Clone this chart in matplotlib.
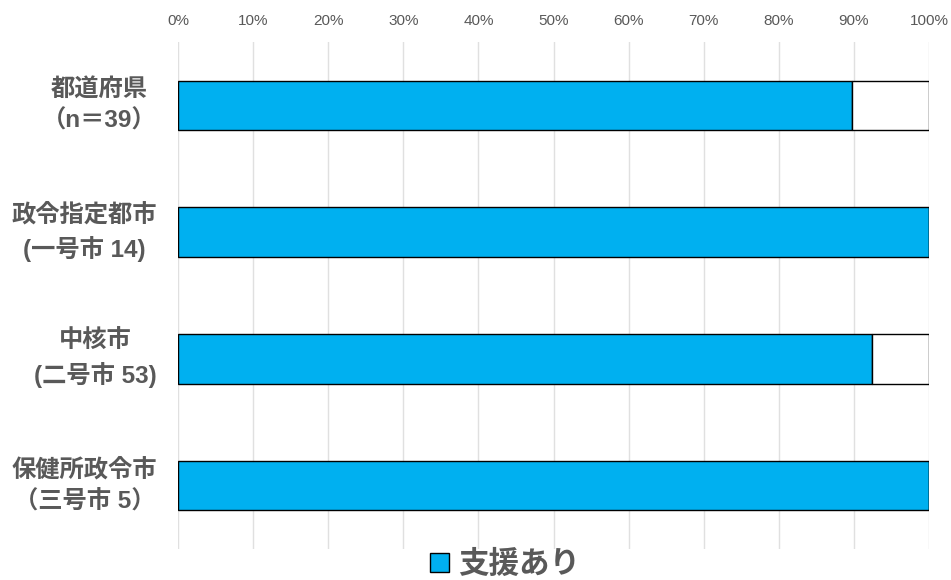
import numpy as np
import matplotlib.pyplot as plt
import matplotlib.transforms as mtransforms
from matplotlib.ticker import PercentFormatter
from matplotlib.patches import Patch

# データ
categories = ['都道府県\n（n＝39）', '政令指定都市\n(一号市 14)', '中核市\n(二号市 53)', '保健所政令市\n（三号市 5）']
support = [35 / 39, 1.0, 49 / 53, 1.0]
no_support = [1 - v for v in support]

fonts = ['Liberation Sans', 'Noto Sans CJK JP', 'DejaVu Sans']
plt.rcParams['font.family'] = fonts
gray = '#595959'

fig = plt.figure(figsize=(9.51, 5.8), dpi=100)
ax = fig.add_axes([178 / 951, 1 - 549 / 580, (929 - 178) / 951, (549 - 42) / 580])

y = np.arange(len(categories))
ax.barh(y, support, height=0.39, color='#00B0F0', edgecolor='black', linewidth=1, zorder=3)
ax.barh(y, no_support, left=support, height=0.39, color='white', edgecolor='black', linewidth=1, zorder=3)

ax.set_xlim(0, 1)
ax.set_ylim(len(categories) - 0.5, -0.5)
ax.xaxis.set_major_formatter(PercentFormatter(1.0, decimals=0))
ax.set_xticks(np.arange(0, 1.01, 0.1))
ax.xaxis.tick_top()
ax.tick_params(axis='x', length=0, pad=10, labelsize=11, labelcolor=gray)
ax.grid(axis='x', color='#E0E0E0', linewidth=1, zorder=0)
for s in ax.spines.values():
    s.set_visible(False)

# カテゴリラベル
ax.set_yticks(y)
ax.set_yticklabels([])
ax.tick_params(axis='y', length=0)
offset = mtransforms.ScaledTranslation(-21 / 100, 0, fig.dpi_scale_trans)
for yi, label in zip(y, categories):
    ax.text(0, yi, label, transform=ax.get_yaxis_transform() + offset,
            ha='right', va='center', multialignment='center', linespacing=1.45,
            fontsize=17.5, fontweight='bold', color=gray)

handle = Patch(facecolor='#00B0F0', edgecolor='black', linewidth=1)
fig.legend([handle], ['支援あり'], loc='center', bbox_to_anchor=(505 / 951, 1 - 565 / 580),
           frameon=False, prop={'size': 22, 'weight': 'bold', 'family': fonts},
           labelcolor=gray, handlelength=0.6, handleheight=0.6, handletextpad=0.3)

fig.savefig('out.png', dpi=100)
